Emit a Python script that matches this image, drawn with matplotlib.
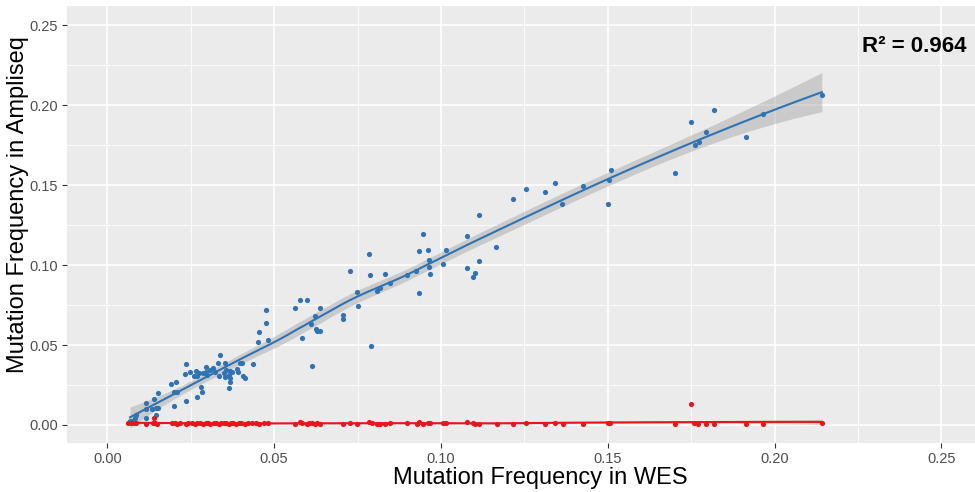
import numpy as np
import matplotlib
matplotlib.use('Agg')
import matplotlib.pyplot as plt

plt.rcParams['font.family'] = ['Liberation Sans', 'DejaVu Sans']

# Mutation frequencies
blue_wes = [0.0068, 0.0074, 0.0082, 0.0085, 0.0115, 0.0115, 0.0115, 0.0133, 0.0139, 0.0145,
            0.0145, 0.0151, 0.0151, 0.0190, 0.0199, 0.0199, 0.0205, 0.0209, 0.0232, 0.0235,
            0.0235, 0.0247, 0.0260, 0.0266, 0.0268, 0.0268, 0.0274, 0.0281, 0.0283, 0.0287,
            0.0295, 0.0295, 0.0299, 0.0307, 0.0317, 0.0322, 0.0333, 0.0335, 0.0337, 0.0349,
            0.0352, 0.0353, 0.0355, 0.0365, 0.0365, 0.0369, 0.0369, 0.0369, 0.0375, 0.0389,
            0.0392, 0.0399, 0.0405, 0.0407, 0.0413, 0.0437, 0.0453, 0.0455, 0.0475, 0.0475,
            0.0482, 0.0561, 0.0577, 0.0598, 0.0582, 0.0609, 0.0613, 0.0621, 0.0624, 0.0629,
            0.0636, 0.0637, 0.0707, 0.0707, 0.0727, 0.0748, 0.0750, 0.0785, 0.0786, 0.0791,
            0.0807, 0.0817, 0.0831, 0.0847, 0.0897, 0.0925, 0.0935, 0.0935, 0.0946, 0.0960,
            0.0963, 0.0965, 0.0968, 0.1006, 0.1015, 0.1078, 0.1078, 0.1096, 0.1103, 0.1114,
            0.1114, 0.1165, 0.1216, 0.1255, 0.1313, 0.1343, 0.1364, 0.1426, 0.1502, 0.1504,
            0.1509, 0.1702, 0.1750, 0.1761, 0.1773, 0.1795, 0.1819, 0.1914, 0.1965, 0.2142]
blue_amp = [0.0023, 0.0025, 0.0042, 0.0063, 0.0046, 0.0100, 0.0138, 0.0098, 0.0163, 0.0065,
            0.0108, 0.0108, 0.0200, 0.0255, 0.0209, 0.0121, 0.0268, 0.0209, 0.0321, 0.0152,
            0.0380, 0.0330, 0.0309, 0.0338, 0.0309, 0.0174, 0.0324, 0.0240, 0.0207, 0.0324,
            0.0334, 0.0363, 0.0311, 0.0345, 0.0357, 0.0334, 0.0388, 0.0307, 0.0440, 0.0324,
            0.0303, 0.0388, 0.0345, 0.0313, 0.0234, 0.0338, 0.0296, 0.0271, 0.0334, 0.0351,
            0.0334, 0.0387, 0.0387, 0.0309, 0.0293, 0.0380, 0.0518, 0.0581, 0.0637, 0.0721,
            0.0533, 0.0735, 0.0783, 0.0783, 0.0547, 0.0631, 0.0367, 0.0679, 0.0600, 0.0589,
            0.0585, 0.0731, 0.0691, 0.0666, 0.0963, 0.0831, 0.0746, 0.1067, 0.0938, 0.0491,
            0.0841, 0.0857, 0.0942, 0.0890, 0.0938, 0.0961, 0.1088, 0.0827, 0.1195, 0.1092,
            0.0988, 0.1034, 0.0946, 0.1009, 0.1096, 0.1184, 0.0982, 0.0927, 0.0952, 0.1314,
            0.1029, 0.1111, 0.1414, 0.1477, 0.1458, 0.1516, 0.1385, 0.1496, 0.1380, 0.1535,
            0.1593, 0.1579, 0.1897, 0.1753, 0.1773, 0.1834, 0.1974, 0.1800, 0.1944, 0.2066]

red_wes = [0.0062, 0.0070, 0.0080, 0.0086, 0.0115, 0.0136, 0.0140, 0.0142, 0.0149, 0.0193,
           0.0202, 0.0209, 0.0217, 0.0235, 0.0242, 0.0253, 0.0262, 0.0269, 0.0277, 0.0287,
           0.0295, 0.0302, 0.0309, 0.0319, 0.0327, 0.0335, 0.0342, 0.0350, 0.0357, 0.0365,
           0.0372, 0.0377, 0.0387, 0.0394, 0.0402, 0.0412, 0.0422, 0.0435, 0.0445, 0.0455,
           0.0469, 0.0482, 0.0561, 0.0577, 0.0583, 0.0597, 0.0605, 0.0613, 0.0621, 0.0627,
           0.0637, 0.0707, 0.0727, 0.0749, 0.0785, 0.0792, 0.0809, 0.0817, 0.0832, 0.0847,
           0.0898, 0.0927, 0.0935, 0.0947, 0.0962, 0.0967, 0.1007, 0.1015, 0.1077, 0.1097,
           0.1103, 0.1115, 0.1167, 0.1217, 0.1255, 0.1313, 0.1343, 0.1365, 0.1425, 0.1502,
           0.1507, 0.1702, 0.1751, 0.1759, 0.1770, 0.1794, 0.1819, 0.1915, 0.1965, 0.2142]
red_amp = [0.0013, 0.0012, 0.0010, 0.0011, 0.0009, 0.0012, 0.0042, 0.0010, 0.0009, 0.0014,
           0.0010, 0.0008, 0.0011, 0.0009, 0.0012, 0.0010, 0.0009, 0.0011, 0.0010, 0.0008,
           0.0012, 0.0010, 0.0009, 0.0011, 0.0010, 0.0008, 0.0012, 0.0010, 0.0011, 0.0009,
           0.0010, 0.0012, 0.0009, 0.0011, 0.0010, 0.0008, 0.0011, 0.0010, 0.0012, 0.0009,
           0.0010, 0.0011, 0.0008, 0.0018, 0.0011, 0.0008, 0.0010, 0.0011, 0.0009, 0.0010,
           0.0008, 0.0009, 0.0010, 0.0009, 0.0021, 0.0011, 0.0009, 0.0008, 0.0009, 0.0010,
           0.0011, 0.0008, 0.0019, 0.0009, 0.0010, 0.0013, 0.0011, 0.0010, 0.0018, 0.0011,
           0.0009, 0.0008, 0.0008, 0.0009, 0.0010, 0.0008, 0.0010, 0.0009, 0.0009, 0.0010,
           0.0011, 0.0009, 0.0130, 0.0010, 0.0009, 0.0008, 0.0009, 0.0009, 0.0008, 0.0010]

r2_text = 'R² = 0.964'
x_ticks = [0.00, 0.05, 0.10, 0.15, 0.20, 0.25]
y_ticks = [0.00, 0.05, 0.10, 0.15, 0.20, 0.25]


def loess(x, y, span=0.75, n_grid=80):
    # local quadratic fit with tricube weights, like R's loess default
    x = np.asarray(x, float)
    y = np.asarray(y, float)
    n = len(x)
    q = int(np.floor(n * span))

    def row(x0):
        d = np.abs(x - x0)
        h = np.sort(d)[q - 1]
        w = (1 - np.clip(d / h, 0, 1) ** 3) ** 3
        X = np.column_stack([np.ones(n), x - x0, (x - x0) ** 2])
        XtW = X.T * w
        return np.linalg.solve(XtW @ X, XtW)[0]

    L = np.array([row(v) for v in x])
    res = y - L @ y
    M = np.eye(n) - L
    delta1 = np.trace(M.T @ M)
    s = np.sqrt(np.sum(res ** 2) / delta1)

    grid = np.linspace(x.min(), x.max(), n_grid)
    rows = np.array([row(v) for v in grid])
    fit = rows @ y
    se = s * np.sqrt(np.sum(rows ** 2, axis=1))
    return grid, fit, 1.97 * se


fig = plt.figure(figsize=(9.75, 4.92), dpi=100)
ax = fig.add_axes([67 / 975, 49 / 492, 908 / 975, 437 / 492])
ax.set_facecolor('#EBEBEB')

for xs, ys, col in [(blue_wes, blue_amp, '#2E74B5'), (red_wes, red_amp, '#E8161C')]:
    gx, gy, ci = loess(xs, ys)
    ax.fill_between(gx, gy - ci, gy + ci, color='#999999', alpha=0.4, lw=0, zorder=2)
    ax.scatter(xs, ys, s=14, color=col, lw=0, zorder=3)
    ax.plot(gx, gy, color=col, lw=1.5, zorder=4)

ax.text(0.2418, 0.2368, r2_text, fontsize=16, fontweight='bold', ha='center', va='center')

ax.set_xlim(-0.0121, 0.2601)
ax.set_ylim(-0.0113, 0.2622)
ax.set_xticks(x_ticks)
ax.set_yticks(y_ticks)
ax.set_xticklabels([f'{v:.2f}' for v in x_ticks])
ax.set_yticklabels([f'{v:.2f}' for v in y_ticks])
ax.set_xticks(np.arange(0.025, 0.26, 0.05), minor=True)
ax.set_yticks(np.arange(0.025, 0.26, 0.05), minor=True)

ax.grid(which='major', color='white', lw=1.2, zorder=0)
ax.grid(which='minor', color='white', lw=0.6, zorder=0)
ax.set_axisbelow(True)
for sp in ax.spines.values():
    sp.set_visible(False)
ax.tick_params(which='major', length=3.5, width=0.8, color='#333333',
               labelcolor='#4D4D4D', labelsize=10.5, pad=3)
ax.tick_params(which='minor', length=0)

ax.set_xlabel('Mutation Frequency in WES', fontsize=17)
ax.set_ylabel('Mutation Frequency in Ampliseq', fontsize=17)
ax.xaxis.label.set_va('center')
ax.yaxis.label.set_va('center')
ax.xaxis.set_label_coords((540 - 67) / 908, (443 - 478) / 437)
ax.yaxis.set_label_coords((18 - 67) / 908, (443 - 205) / 437)

fig.savefig('out.png', dpi=100)
